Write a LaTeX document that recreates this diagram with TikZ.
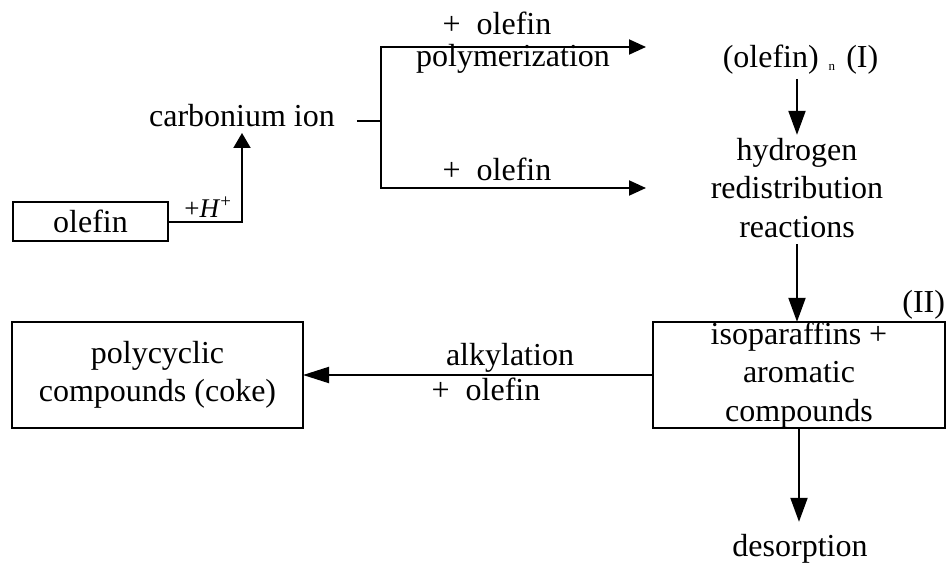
\documentclass[tikz,border=0pt]{standalone}
\usepackage{fontspec}
\setmainfont{Liberation Serif}
\usetikzlibrary{arrows.meta}
\begin{document}
\begin{tikzpicture}[x=1pt,y=-1pt, line width=2pt,
  every node/.style={inner sep=0pt, outer sep=0pt, font=\fontsize{32}{38.5}\selectfont},
  box/.style={draw, line width=2pt},
  arrV/.style={-{Triangle[length=24pt,width=17pt]}},
  arrH/.style={-{Triangle[length=17pt,width=15pt]}},
  arrU/.style={-{Triangle[length=15pt,width=17pt]}},
  arrC/.style={-{Triangle[length=26pt,width=16pt]}}]
\useasboundingbox (0,0) rectangle (948,567);

\node[box, minimum width=155pt, minimum height=39pt] (ol) at (90.5,221.5) {olefin};
\node[anchor=base] (carb) at (242,127) {carbonium ion};
\node[anchor=base, font=\fontsize{27}{27}\selectfont] (hp) at (208,217) {+\textit{H}\textsuperscript{+}};
\coordinate (fork) at (381,121);
\coordinate (t1) at (646,47);
\coordinate (t2) at (646,188);
\node[anchor=base] (lab1) at (497,35) {+\ \ olefin};
\node[anchor=base] (lab2) at (513,67) {polymerization};
\node[anchor=base] (lab3) at (497,180) {+\ \ olefin};
\node[anchor=base] (oln) at (800.5,68) {(olefin)\hspace{10pt}\raisebox{-3pt}{\fontsize{13}{13}\selectfont n}\hspace{11pt}(I)};
\node[align=center] (hyd) at (797,187.6) {hydrogen\\redistribution\\reactions};
\node[box, minimum width=292pt, minimum height=106pt, align=center] (iso) at (799,375) {isoparaffins +\\aromatic\\compounds};
\node[anchor=base east] (two) at (945,312) {(II)};
\node[box, minimum width=291pt, minimum height=106pt, align=center] (coke) at (157.5,375) {polycyclic\\compounds (coke)};
\node[anchor=base] (alk) at (510,365) {alkylation};
\node[anchor=base] (lab4) at (486,400) {+\ \ olefin};
\node[anchor=base] (des) at (800,556) {desorption};

\draw[arrU] (ol.east) -| ([yshift=-6pt]carb.base);
\draw[shorten <=22pt] (carb.east |- fork) -- (fork);
\draw[arrH] (fork) |- (t1);
\draw[arrH] (fork) |- (t2);
\draw[arrV, shorten >=3pt] ([yshift=-11pt]oln.base -| hyd.north) -- (hyd.north);
\draw[arrV, shorten <=7pt] (hyd.south) -- (hyd.south |- iso.north);
\draw[arrV, shorten >=12pt] (iso.south) -- (iso.south |- des.north);
\draw[arrC] (iso.west) -- (coke.east);
\end{tikzpicture}
\end{document}
